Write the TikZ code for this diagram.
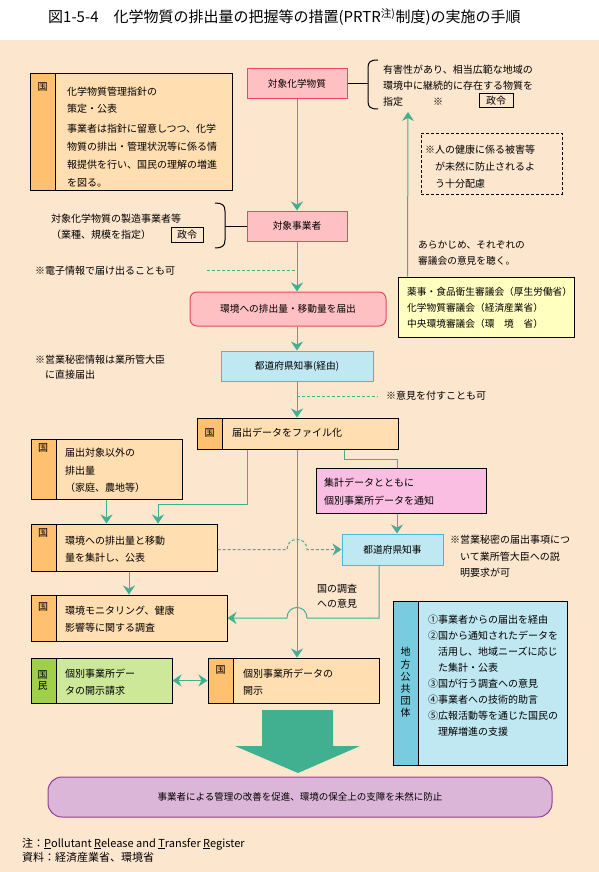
\documentclass[tikz,border=0pt]{standalone}
\usepackage{fontspec}
\setmainfont{Noto Sans CJK JP}
\usetikzlibrary{arrows.meta}
\definecolor{prbg}{RGB}{253,230,206}
\definecolor{prorange}{RGB}{255,192,112}
\definecolor{prtan}{RGB}{255,222,178}
\definecolor{prpink}{RGB}{255,192,196}
\definecolor{prred}{RGB}{232,72,96}
\definecolor{prsky}{RGB}{192,232,242}
\definecolor{prblue}{RGB}{72,184,216}
\definecolor{prcyan}{RGB}{120,204,224}
\definecolor{pryellow}{RGB}{255,255,192}
\definecolor{prmagenta}{RGB}{250,190,226}
\definecolor{prlime}{RGB}{204,232,152}
\definecolor{prgreen}{RGB}{160,208,72}
\definecolor{prteal}{RGB}{64,176,144}
\definecolor{prlilac}{RGB}{220,182,216}
\definecolor{prpurple}{RGB}{150,60,150}
\newcommand{\jpfont}{\fontsize{10}{18}\selectfont}
\newcommand{\notefont}{\fontsize{9.7}{16}\selectfont}

\begin{document}
\begin{tikzpicture}[
  x=1pt, y=-1pt,
  every node/.style={inner sep=0pt, font=\jpfont},
  sidebar/.style={path picture={\fill[#1] (path picture bounding box.north west) rectangle ([xshift=25pt]path picture bounding box.south west);
      \draw[line width=1pt] ([xshift=25pt]path picture bounding box.north west) -- ([xshift=25pt]path picture bounding box.south west);}},
  govbox/.style={rectangle, draw, line width=1pt, fill=prtan, sidebar=prorange},
  pinkbox/.style={rectangle, draw=prred, fill=prpink, line width=1pt, font=\fontsize{9.7}{12}\selectfont},
  bluebox/.style={rectangle, draw=prblue, fill=prsky, line width=1pt, font=\fontsize{9.7}{12}\selectfont},
  kuni/.style={font=\fontsize{10}{11}\selectfont, align=center},
  boxtext/.style={anchor=north west, align=left},
  seirei/.style={rectangle, draw, line width=1pt, font=\fontsize{10}{12}\selectfont},
  link/.style={draw=prteal, line width=1pt},
  dashlink/.style={draw=prteal, line width=1pt, dash pattern=on 3pt off 2pt},
  arrow/.style={link, -{Stealth[length=9pt, width=12pt, inset=3pt]}},
  twoway/.style={link, {Stealth[length=9pt, width=12pt, inset=3pt]}-{Stealth[length=9pt, width=12pt, inset=3pt]}}
]
\useasboundingbox (0,0) rectangle (599,872);
\fill[white] (0,0) rectangle (599,40);
\fill[prbg] (0,40) rectangle (599,872);

% Title
\node[anchor=west, font=\fontsize{15}{16}\selectfont] (title) at (48,17) {図1-5-4　化学物質の排出量の把握等の措置(PRTR\textsuperscript{注)}制度)の実施の手順};

% Guideline by the state
\node[govbox, minimum width=202pt, minimum height=116pt] (guide) at (131,132) {};
\node[kuni] (guidek) at (42.5,87) {国};
\node[boxtext] (guidetxt) at (67,87) {化学物質管理指針の\\[-1pt]策定・公表\\[2pt]事業者は指針に留意しつつ、化学\\物質の排出・管理状況等に係る情\\報提供を行い、国民の理解の増進\\を図る。};

% Target substances and brace
\node[pinkbox, minimum width=100pt, minimum height=30pt] (chem) at (297,84) {対象化学物質};
\coordinate (chembrace) at (368,84);
\draw[line width=1pt] (chem.east) -- (chembrace);
\draw[line width=1pt] (378,60) .. controls (370,60) and (368,62) .. (368,68) -- (368,101) .. controls (368,107) and (370,109) .. (378,109);
\node[boxtext, font=\fontsize{10}{16}\selectfont] (chemtxt) at (383,65) {有害性があり、相当広範な地域の\\環境中に継続的に存在する物質を\\指定};
\node (chemmark) at (438,102) {※};
\node[seirei, minimum width=34pt, minimum height=14pt] (chemlaw) at (496,101) {政令};

% Care note
\node[draw, line width=1pt, dash pattern=on 3pt off 2pt, minimum width=141pt, minimum height=61pt] (carenote) at (491.5,163.5) {};
\node[boxtext, font=\fontsize{10}{17}\selectfont] (caretxt) at (425,145) {※人の健康に係る被害等\\　が未然に防止されるよ\\　う十分配慮};

% Councils
\node[boxtext, font=\notefont] (hearing) at (418,241) {あらかじめ、それぞれの\\審議会の意見を聴く。};
\node[draw, fill=pryellow, line width=1pt, minimum width=176pt, minimum height=60pt] (council) at (486,307) {};
\node[boxtext, font=\notefont] (counciltxt) at (407,287) {薬事・食品衛生審議会（厚生労働省）\\化学物質審議会（経済産業省）\\中央環境審議会（環　境　省）};
\coordinate (chemtip) at (408,112);
\draw[arrow] ([xshift=10pt]council.north west) -- (chemtip);

% Target businesses and brace
\node[pinkbox, minimum width=100pt, minimum height=30pt] (business) at (297,226) {対象事業者};
\coordinate (bizbrace) at (225,226);
\draw[line width=1pt] (bizbrace) -- (business.west);
\draw[line width=1pt] (215,203) .. controls (222,203) and (225,205) .. (225,211) -- (225,240) .. controls (225,246) and (222,248) .. (215,248);
\node[boxtext, font=\fontsize{10}{16}\selectfont] (biztxt) at (51,214) {対象化学物質の製造事業者等\\（業種、規模を指定）};
\node[seirei, minimum width=32pt, minimum height=15pt] (bizlaw) at (187,234.5) {政令};
\draw[arrow] (chem) -- (business);

% Notification
\node[anchor=west] (enote) at (35,271) {※電子情報で届け出ることも可};
\coordinate (edash) at (207,270);
\coordinate (emain) at (297,270);
\draw[dashlink] (edash) -- (emain);
\node[pinkbox, rounded corners=7pt, minimum width=196pt, minimum height=34pt] (report) at (288,309) {環境への排出量・移動量を届出};
\draw[arrow] (business.south) -- (business.south |- report.north);

\node[bluebox, minimum width=152pt, minimum height=30pt] (pref1) at (297,366) {都道府県知事(経由)};
\draw[arrow] (business.south |- report.south) -- (pref1.north);
\node[boxtext, font=\fontsize{10}{15}\selectfont] (secret1) at (35,355) {※営業秘密情報は業所管大臣\\　に直接届出};
\coordinate (opmain) at (297,396);
\coordinate (opend) at (378,396);
\draw[dashlink] (opmain) -- (opend);
\node[anchor=west] (opnote) at (386,396) {※意見を付すことも可};

% Filing by the state
\node[govbox, minimum width=201pt, minimum height=31pt] (file) at (297.5,433.5) {};
\node[kuni] (filek) at (209.5,433) {国};
\node[anchor=west] (filetxt) at (232,433) {届出データをファイル化};
\draw[arrow] (pref1.south) -- (pref1.south |- file.north);

% Left column
\node[govbox, minimum width=151pt, minimum height=60pt] (other) at (106.5,469) {};
\node[kuni] (otherk) at (43,448) {国};
\node[boxtext, font=\fontsize{10}{17.5}\selectfont] (othertxt) at (65,448) {届出対象以外の\\排出量\\（家庭、農地等）};

\node[govbox, minimum width=186pt, minimum height=47pt] (agg) at (124,547.5) {};
\node[kuni] (aggk) at (43,533) {国};
\node[boxtext, font=\fontsize{10}{17}\selectfont] (aggtxt) at (65,536) {環境への排出量と移動\\量を集計し、公表};

\node[govbox, minimum width=196pt, minimum height=46pt] (mon) at (129,618) {};
\node[kuni] (monk) at (43,607) {国};
\node[boxtext, font=\fontsize{10}{17}\selectfont] (montxt) at (65,606) {環境モニタリング、健康\\影響等に関する調査};

\coordinate (fileleft) at (247,504);
\draw[arrow] (file.south -| fileleft) -- (fileleft) -| ([xshift=34pt]agg.north);
\draw[arrow] (other.south) -- (other.south |- agg.north);
\draw[arrow] ([xshift=5pt]agg.south) -- ([xshift=5pt]agg.south |- mon.north);

% Right column
\node[rectangle, draw, fill=prmagenta, line width=1pt, minimum width=170pt, minimum height=45pt] (notify) at (401,490.5) {};
\node[boxtext, font=\fontsize{10}{18}\selectfont] (notifytxt) at (324,478) {集計データとともに\\個別事業所データを通知};
\coordinate (fileright) at (344,459);
\draw[link] (file.south -| fileright) -- (fileright) -| ([xshift=-4pt]notify.north);

\node[bluebox, minimum width=101pt, minimum height=31pt] (pref2) at (392.5,549.5) {都道府県知事};
\draw[arrow] ([xshift=-4pt]notify.south) -- ([xshift=-4pt]notify.south |- pref2.north);
\node[boxtext, font=\fontsize{10}{16.5}\selectfont] (secret2) at (450,535) {※営業秘密の届出事項につ\\　いて業所管大臣への説\\　明要求が可};

\draw[dashlink, -{Stealth[length=9pt, width=12pt, inset=3pt]}] (agg.east |- pref2.west) -- (287,549.5) .. controls (287,536) and (307,536) .. (307,549.5) -- (pref2.west);
\draw[arrow] ([xshift=-13.5pt]pref2.south) -- ([xshift=-13.5pt]pref2.south |- mon.east) -- (307,618) .. controls (307,604) and (287,604) .. (287,618) -- (mon.east);
\node[boxtext, font=\fontsize{10}{15}\selectfont] (survey) at (317,584) {国の調査\\への意見};

% Disclosure
\node[govbox, fill=prlime, sidebar=prgreen, minimum width=141pt, minimum height=45pt] (request) at (101.5,680.5) {};
\node[kuni] (requestk) at (42.5,680) {国\\民};
\node[boxtext, font=\fontsize{10}{17}\selectfont] (requesttxt) at (65,669) {個別事業所デー\\タの開示請求};

\node[govbox, minimum width=171pt, minimum height=45pt] (disclose) at (293.5,680.5) {};
\node[kuni] (disclosek) at (220.5,670) {国};
\node[boxtext, font=\fontsize{10}{17}\selectfont] (disclosetxt) at (243,669) {個別事業所データの\\開示};
\draw[twoway] (request) -- (disclose);
\draw[arrow] (file.south -| pref1.south) -- (pref1.south |- disclose.north);

% Local governments
\node[govbox, fill=prsky, sidebar=prcyan, minimum width=174pt, minimum height=164pt] (localgov) at (480,683) {};
\node[kuni, font=\fontsize{10}{12.2}\selectfont] (localk) at (405.5,682.5) {地\\方\\公\\共\\団\\体};
\node[boxtext, font=\fontsize{10}{16}\selectfont] (localtxt) at (428,615) {①事業者からの届出を経由\\②国から通知されたデータを\\　活用し、地域ニーズに応じ\\　た集計・公表\\③国が行う調査への意見\\④事業者への技術的助言\\⑤広報活動等を通じた国民の\\　理解増進の支援};

% Result
\fill[prteal] (262,710) -- (333,710) -- (333,746) -- (360,746) -- (298,773) -- (235,746) -- (262,746) -- cycle;
\node[draw=prpurple, fill=prlilac, line width=1pt, rounded corners=14pt, minimum width=504pt, minimum height=40pt, font=\fontsize{9.5}{12}\selectfont] (goal) at (300,797) {事業者による管理の改善を促進、環境の保全上の支障を未然に防止};

% Notes
\node[anchor=west, font=\fontsize{11}{12}\selectfont] (footnote) at (22,844) {注：\underline{P}ollutant \underline{R}elease and \underline{T}ransfer \underline{R}egister};
\node[anchor=west, font=\fontsize{11}{12}\selectfont] (source) at (22,857) {資料：経済産業省、環境省};

\end{tikzpicture}
\end{document}
